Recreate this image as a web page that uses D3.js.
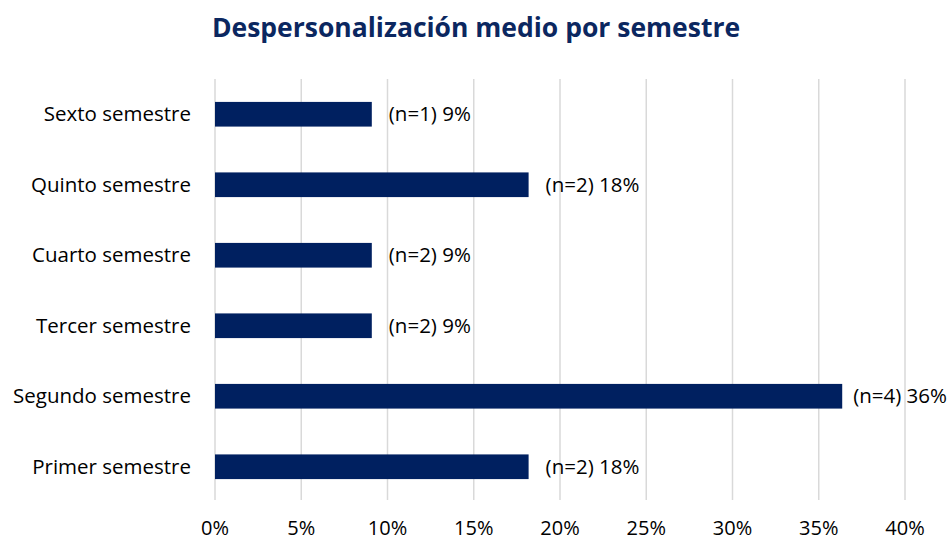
<!DOCTYPE html>
<html>
<head>
    <meta charset="utf-8">
    <title>Despersonalización medio por semestre</title>
    <script src="https://d3js.org/d3.v7.min.js"></script>
    <style>
        body { margin: 0; background: #fff; }
        text { font-family: "Open Sans", "Noto Sans", sans-serif; fill: #000; }
        .title { font-weight: bold; fill: #0b2760; }
    </style>
</head>
<body>
    <svg width="951" height="542"></svg>
    <script>
        // data (top to bottom as drawn)
        var categories = ["Sexto semestre", "Quinto semestre", "Cuarto semestre",
            "Tercer semestre", "Segundo semestre", "Primer semestre"];
        var values = [9.09, 18.18, 9.09, 9.09, 36.36, 18.18];
        var counts = [1, 2, 2, 2, 4, 2];
        var ticks = [0, 5, 10, 15, 20, 25, 30, 35, 40];

        var svg = d3.select("svg"),
            width = +svg.attr("width");

        var x = d3.scaleLinear().domain([0, 40]).range([215, 905]);
        var y = d3.scaleBand().domain(categories).range([79, 502])
            .paddingInner(0.65).paddingOuter(0.325);

        // title
        svg.append("text")
            .attr("class", "title")
            .attr("x", 476)
            .attr("y", 28)
            .attr("dy", "0.35em")
            .attr("text-anchor", "middle")
            .style("font-size", "26.5px")
            .text("Despersonalización medio por semestre");

        // gridlines
        svg.append("g")
            .selectAll("line")
            .data(ticks)
            .enter().append("line")
            .attr("x1", d => x(d)).attr("x2", d => x(d))
            .attr("y1", 79).attr("y2", 500)
            .attr("stroke", "#d9d9d9")
            .attr("stroke-width", 1.5);

        // x tick labels
        svg.append("g")
            .selectAll("text")
            .data(ticks)
            .enter().append("text")
            .attr("x", d => x(d))
            .attr("y", 528)
            .attr("dy", "0.35em")
            .attr("text-anchor", "middle")
            .style("font-size", "20px")
            .text(d => d + "%");

        // category labels
        svg.append("g")
            .selectAll("text")
            .data(categories)
            .enter().append("text")
            .attr("x", 191)
            .attr("y", d => y(d) + y.bandwidth() / 2)
            .attr("dy", "0.35em")
            .attr("text-anchor", "end")
            .style("font-size", "20.5px")
            .text(d => d);

        // bars
        svg.append("g")
            .selectAll("rect")
            .data(categories)
            .enter().append("rect")
            .attr("x", x(0))
            .attr("y", d => y(d))
            .attr("width", (d, i) => x(values[i]) - x(0))
            .attr("height", y.bandwidth())
            .attr("fill", "#002060");

        // value labels, pushed back inside the chart if they would overflow
        svg.append("g")
            .selectAll("text")
            .data(categories)
            .enter().append("text")
            .attr("y", d => y(d) + y.bandwidth() / 2)
            .attr("dy", "0.35em")
            .style("font-size", "20.5px")
            .text((d, i) => "(n=" + counts[i] + ") " + Math.round(values[i]) + "%")
            .attr("x", function (d, i) {
                var w = this.getComputedTextLength();
                return Math.min(x(values[i]) + 17, width - 4 - w);
            });
    </script>
</body>
</html>
